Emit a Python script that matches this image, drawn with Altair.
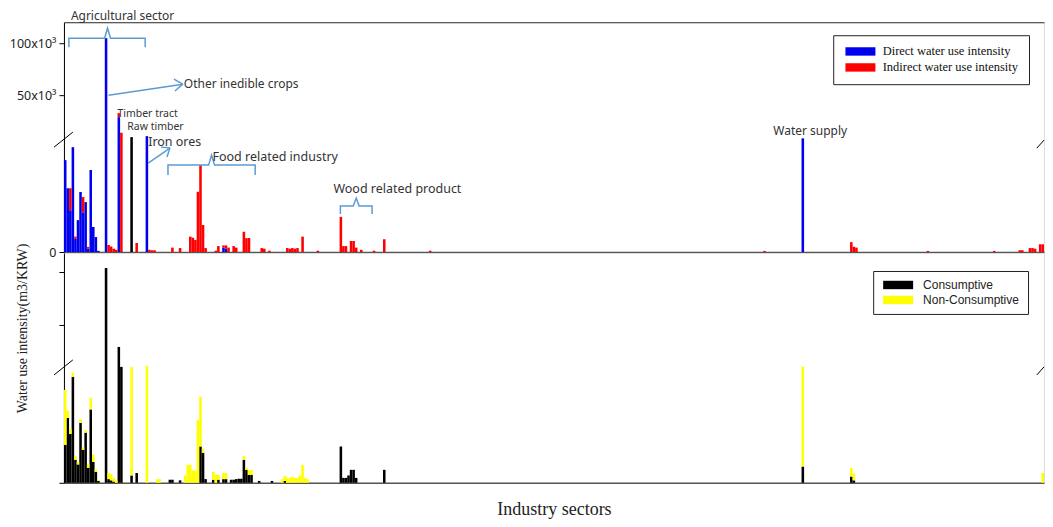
import altair as alt
import pandas as pd

N_SECTORS = 384

# ---------------- top panel: direct / indirect water use intensity ----------------
direct_idx = [0, 1, 2, 3, 4, 5, 6, 7, 8, 9, 10, 11, 12, 13, 16, 21, 32, 62, 63, 289]
direct_val = [4180, 2900, 1900, 4770, 600, 1450, 2730, 1800, 2270, 150, 3730, 1140, 680, 50,
              104700, 28950, 10750, 200, 150, 8600]

indirect_idx = [2, 4, 7, 9, 17, 18, 19, 20, 21, 22, 28, 33, 34, 35, 42, 45, 49, 50, 51, 52, 53, 54, 55,
                59, 60, 62, 63, 64, 66, 67, 70, 71, 72, 77, 78, 80, 87, 88, 89, 90, 91, 93, 99,
                108, 109, 110, 112, 113, 114, 116, 121, 125, 143, 274, 308, 309, 310, 338, 364,
                374, 375, 378, 379, 380, 382, 383]
indirect_val = [1000, 100, 700, 80, 320, 250, 150, 100, 3850, 14000, 410, 100, 80, 80, 200, 180, 700,
                650, 550, 2740, 3950, 1230, 180, 60, 270, 100, 150, 200, 270, 200, 920, 630, 640, 180,
                150, 60, 180, 150, 180, 150, 180, 700, 60, 1600, 270, 270, 500, 500, 200, 100, 60, 580,
                60, 50, 450, 240, 200, 50, 50, 80, 80, 180, 180, 150, 350, 350]

combined_idx = [26]
combined_val = [9800]

# ---------------- bottom panel: consumptive / non-consumptive ----------------
cons_idx = [0, 1, 2, 3, 4, 5, 6, 7, 8, 9, 10, 11, 12, 13, 16, 17, 18, 19, 21, 22, 26, 28, 41, 42, 45,
            53, 54, 55, 58, 60, 62, 63, 65, 66, 67, 68, 69, 70, 71, 72, 73, 76, 81, 86,
            108, 109, 110, 111, 112, 113, 114, 125, 289, 308, 309]
cons_val = [3100, 5300, 4000, 8660, 1880, 1500, 4900, 2700, 4100, 1230, 6000, 1700, 900, 150,
            103800, 300, 200, 100, 29200, 10350, 600, 800, 250, 250, 200, 2970, 2450, 300, 250, 250,
            300, 300, 250, 250, 300, 330, 330, 1880, 1060, 650, 650, 150, 150, 150,
            2970, 400, 400, 600, 1060, 1060, 400, 1060, 1330, 510, 200]

noncons_idx = [0, 1, 2, 3, 4, 5, 6, 7, 8, 9, 10, 11, 12, 13, 17, 18, 19, 20, 26, 32, 36, 37,
               47, 48, 49, 50, 51, 52, 53, 54, 58, 59, 60, 62, 63, 70, 71, 72, 73,
               85, 86, 87, 88, 89, 90, 91, 92, 93, 94, 95, 289, 308, 309, 383]
noncons_val = [4500, 600, 400, 330, 300, 200, 300, 200, 200, 300, 940, 600, 200, 100, 500, 500, 300, 200,
               9750, 11300, 300, 300, 600, 1470, 1470, 1000, 1000, 5150, 4080, 300, 650, 650, 400,
               500, 500, 300, 170, 400, 400, 300, 400, 400, 400, 500, 400, 400, 600, 1470, 400, 300,
               9270, 710, 560, 800]

TOP_SERIES = ["Direct water use intensity", "Indirect water use intensity", "Direct + indirect"]
TOP_COLORS = ["#0000ee", "#ff0000", "#000000"]
BOT_SERIES = ["Consumptive", "Non-Consumptive"]
BOT_COLORS = ["#000000", "#ffff00"]

# ---------------- annotations (top panel, in data space) ----------------
ann_text = ["Agricultural sector", "Other inedible crops", "Timber tract", "Raw timber",
            "Iron ores", "Food related industry", "Wood related product", "Water supply"]
ann_sector = [2.72, 46.97, 20.96, 24.84, 33.0, 58.23, 105.6, 277.95]
ann_value = [125740, 60580, 32310, 19375, 5000, 4318, 2863, 15540]
ann_size = [12, 12, 10.5, 10.5, 12.5, 12.5, 12.5, 12]

bracket_group = ["agri"] * 7 + ["food"] * 7 + ["wood"] * 7
bracket_sector = [1.94, 1.94, 15.92, 17.08, 18.25, 31.83, 31.83,
                  40.76, 40.76, 56.68, 57.84, 59.01, 74.92, 74.92,
                  108.31, 108.31, 113.35, 114.52, 115.68, 120.73, 120.73]
bracket_value = [96040, 104660, 104660, 114250, 104660, 104660, 96040,
                 3500, 3954, 3954, 4409, 3954, 3954, 3500,
                 1727, 2091, 2091, 2454, 2091, 2091, 1727]

arrow_s1 = [17.47, 43.09, 43.48, 33.0, 38.04, 40.37]
arrow_v1 = [50040, 65370, 54080, 4045, 4772, 4318]
arrow_s2 = [46.58, 46.58, 46.58, 41.54, 41.54, 41.54]
arrow_v2 = [60580, 60580, 60580, 4727, 4727, 4727]

top_break_s1 = [-3.88, 381.2]
top_break_v1 = [4772, 4727]
top_break_s2 = [3.49, 384.0]
top_break_v2 = [14580, 6917]

bot_break_s1 = [-3.88, 381.2]
bot_break_v1 = [8824, 8824]
bot_break_s2 = [3.49, 384.0]
bot_break_v2 = [16950, 10344]


def stacked(lo_idx, lo_val, hi_idx, hi_val, lo_name, hi_name):
    lo = dict(zip(lo_idx, lo_val))
    rows = []
    for i, v in lo.items():
        rows.append({"x0": i, "x1": i + 1, "y0": 0, "y1": v, "series": lo_name})
    for i, v in zip(hi_idx, hi_val):
        base = lo.get(i, 0)
        rows.append({"x0": i, "x1": i + 1, "y0": base, "y1": base + v, "series": hi_name})
    return rows


top_rows = stacked(direct_idx, direct_val, indirect_idx, indirect_val, TOP_SERIES[0], TOP_SERIES[1])
for i, v in zip(combined_idx, combined_val):
    top_rows.append({"x0": i, "x1": i + 1, "y0": 0, "y1": v, "series": TOP_SERIES[2]})
top_df = pd.DataFrame(top_rows)
bot_df = pd.DataFrame(stacked(cons_idx, cons_val, noncons_idx, noncons_val, BOT_SERIES[0], BOT_SERIES[1]))

ann_df = pd.DataFrame({"t": ann_text, "s": ann_sector, "v": ann_value, "fs": ann_size})
br_df = pd.DataFrame({"g": bracket_group, "s": bracket_sector, "v": bracket_value,
                      "o": list(range(len(bracket_sector)))})
ar_df = pd.DataFrame({"s1": arrow_s1, "v1": arrow_v1, "s2": arrow_s2, "v2": arrow_v2})
tb_df = pd.DataFrame({"s1": top_break_s1, "v1": top_break_v1, "s2": top_break_s2, "v2": top_break_v2})
bb_df = pd.DataFrame({"s1": bot_break_s1, "v1": bot_break_v1, "s2": bot_break_s2, "v2": bot_break_v2})

W, H = 981, 230
xs = alt.Scale(domain=[0, N_SECTORS], nice=False, zero=False)
top_y = alt.Scale(domain=[0, 5000, 120000], range=[H, 120, 0], nice=False, zero=False)
bot_y = alt.Scale(domain=[0, 9400, 118000], range=[H, 115, 0], nice=False, zero=False)

# wide legend swatch (30 x 8 px at symbolSize 64), drawn to the right of the entry origin
SWATCH = "M-1,-1.05H6.5V1.05H-1Z"

x_bottom_plain = alt.Axis(labels=False, ticks=False, grid=False, domainColor="#555",
                          domainWidth=1.5, title=None)
top_y_axis = alt.Axis(values=[0, 50000, 100000],
                      labelExpr="datum.value == 100000 ? '100x10³' : (datum.value == 50000 ? '50x10³' : '0')",
                      title=None, grid=False, domainColor="#000", tickColor="#000", tickSize=5,
                      labelPadding=3, labelFont="Noto Sans", labelFontSize=12.5, labelColor="#222")
bot_x_axis = alt.Axis(labels=False, ticks=False, grid=False, domainColor="#555", domainWidth=1.5,
                      title="Industry sectors", titleFont="Liberation Serif", titleFontSize=18,
                      titleFontWeight="normal", titleColor="#222", titlePadding=18)
bot_y_axis = alt.Axis(values=[0, 50000, 100000], labels=False, grid=False, domainColor="#000",
                      tickColor="#000", tickSize=5,
                      title="Water use intensity(m3/KRW)", titleFont="Liberation Serif",
                      titleFontSize=14, titleFontWeight="normal", titleColor="#222",
                      titleAngle=270, titleX=-41, titleY=75, titleAlign="center",
                      titleBaseline="middle")

bars_top = alt.Chart(top_df).mark_bar().encode(
    x=alt.X("x0:Q", scale=xs, axis=x_bottom_plain),
    x2="x1:Q",
    y=alt.Y("y0:Q", scale=top_y, axis=top_y_axis),
    y2="y1:Q",
    color=alt.Color("series:N", scale=alt.Scale(domain=TOP_SERIES, range=TOP_COLORS),
                    legend=alt.Legend(values=TOP_SERIES[:2], orient="none", legendX=770, legendY=13,
                                      title=None, direction="vertical",
                                      labelFont="Liberation Serif", labelFontSize=12.5,
                                      labelColor="#111", labelLimit=300,
                                      symbolType=SWATCH, symbolSize=64, symbolStrokeWidth=0,
                                      strokeColor="#222", fillColor="white", padding=10,
                                      rowPadding=3, labelOffset=27)),
)

brackets = alt.Chart(br_df).mark_line(color="#5b9bd5", strokeWidth=1.5).encode(
    x=alt.X("s:Q", scale=xs, axis=None),
    y=alt.Y("v:Q", scale=top_y, axis=top_y_axis),
    detail="g:N",
    order="o:Q",
)

arrows = alt.Chart(ar_df).mark_rule(color="#5b9bd5", strokeWidth=1.5).encode(
    x=alt.X("s1:Q", scale=xs, axis=None), x2="s2:Q",
    y=alt.Y("v1:Q", scale=top_y, axis=top_y_axis), y2="v2:Q",
)

top_breaks = alt.Chart(tb_df).mark_rule(color="#000", strokeWidth=1).encode(
    x=alt.X("s1:Q", scale=xs, axis=None), x2="s2:Q",
    y=alt.Y("v1:Q", scale=top_y, axis=top_y_axis), y2="v2:Q",
)

texts = alt.Chart(ann_df).mark_text(align="left", baseline="middle", font="Noto Sans",
                                    color="#333").encode(
    x=alt.X("s:Q", scale=xs, axis=alt.Axis(orient="top", labels=False, ticks=False, grid=False,
                                           domainColor="#333", domainWidth=1, title=None)),
    y=alt.Y("v:Q", scale=top_y, axis=top_y_axis),
    text="t:N",
    size=alt.Size("fs:Q", scale=None, legend=None),
)

top = alt.layer(bars_top, brackets, arrows, top_breaks, texts).resolve_axis(x="independent").properties(
    width=W, height=H)

bars_bot = alt.Chart(bot_df).mark_bar().encode(
    x=alt.X("x0:Q", scale=xs, axis=bot_x_axis),
    x2="x1:Q",
    y=alt.Y("y0:Q", scale=bot_y, axis=bot_y_axis),
    y2="y1:Q",
    color=alt.Color("series:N", scale=alt.Scale(domain=BOT_SERIES, range=BOT_COLORS),
                    legend=alt.Legend(orient="none", legendX=810, legendY=18, title=None,
                                      direction="vertical", labelFont="Liberation Sans",
                                      labelFontSize=12, labelColor="#222", labelLimit=300,
                                      symbolType=SWATCH, symbolSize=64, symbolStrokeWidth=0,
                                      strokeColor="#222", fillColor="white", padding=8,
                                      rowPadding=3, labelOffset=30)),
)

bot_breaks = alt.Chart(bb_df).mark_rule(color="#000", strokeWidth=1).encode(
    x=alt.X("s1:Q", scale=xs, axis=bot_x_axis), x2="s2:Q",
    y=alt.Y("v1:Q", scale=bot_y, axis=bot_y_axis), y2="v2:Q",
)

bottom = alt.layer(bars_bot, bot_breaks).properties(width=W, height=H)

chart = alt.vconcat(top, bottom, spacing=1, bounds="flush").resolve_scale(
    color="independent", y="independent").properties(
    padding={"left": 0, "top": 1, "right": 0, "bottom": 0}
).configure_view(stroke=None).configure(background="white")

chart.save("out.html", embed_options={"renderer": "svg", "actions": False})
